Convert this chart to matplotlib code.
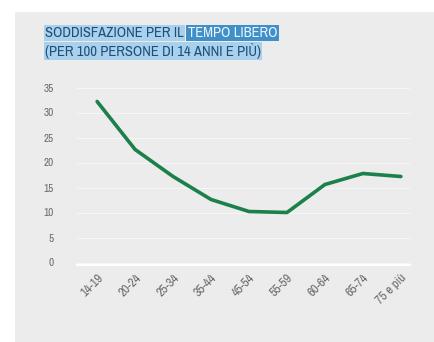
import matplotlib.pyplot as plt
from matplotlib.patches import Rectangle
from matplotlib import font_manager

# Età e quota di persone soddisfatte del tempo libero
eta = ['14-19', '20-24', '25-34', '35-44', '45-54', '55-59', '60-64', '65-74', '75 e più']
soddisfatti = [32.2, 22.6, 17.2, 12.6, 10.2, 10.0, 15.6, 17.8, 17.2]
y_ticks = [0, 5, 10, 15, 20, 25, 30, 35]

names = sorted({f.name for f in font_manager.fontManager.ttflist})
narrow = [n for n in names if 'Narrow' in n or 'Condensed' in n]
title_font = narrow[0] if narrow else 'DejaVu Sans'

fig = plt.figure(figsize=(4.35, 3.42), dpi=100)
fig.patch.set_facecolor('white')

# grey card behind the chart
fig.patches.append(Rectangle((15 / 435, 0), 1 - 15 / 435, 1 - 12 / 342,
                             transform=fig.transFigure, facecolor='#ebeceb',
                             edgecolor='none', zorder=-5))

ax = fig.add_axes([77 / 435, 1 - 265 / 342, 333 / 435, 180 / 342])
ax.set_zorder(2)
ax.set_facecolor('#ebeceb')
x = list(range(len(eta)))
ax.plot(x, soddisfatti, color='#1b8049', linewidth=2.6,
        solid_joinstyle='round', solid_capstyle='round', zorder=3)

ax.set_xlim(-0.53, 8.24)
ax.set_ylim(-0.5, 35.5)
ax.set_yticks(y_ticks)
ax.set_yticklabels([str(v) for v in y_ticks])
ax.set_xticks(x)
ax.set_xticklabels(eta, rotation=45, ha='right', rotation_mode='anchor')
for t in ax.get_yticklabels():
    t.set_fontsize(8)
for t in ax.get_xticklabels():
    t.set_fontsize(9)
for t in ax.get_yticklabels() + ax.get_xticklabels():
    t.set_color('#6a6a6a')
    t.set_fontweight('bold')
    t.set_family(title_font)
ax.tick_params(length=0)
ax.tick_params(axis='y', pad=17)
ax.tick_params(axis='x', pad=5)
ax.grid(axis='y', color='#f6f6f6', linewidth=0.8)
for s in ['top', 'right', 'left']:
    ax.spines[s].set_visible(False)
ax.spines['bottom'].set_color('white')
ax.spines['bottom'].set_linewidth(1.5)

# title with highlighted background
title_kw = dict(fontsize=10.5, fontweight='bold', family=title_font, va='center')
t1 = fig.text(45 / 435, 1 - 33 / 342, 'SODDISFAZIONE PER IL', color='#1d4f7c',
              bbox=dict(boxstyle='square,pad=0.1', facecolor='#a9d1ec', edgecolor='none'),
              **title_kw)
fig.canvas.draw()
bb = t1.get_window_extent().transformed(fig.transFigure.inverted())
fig.text(bb.x1 + 4 / 435, 1 - 33 / 342, 'TEMPO LIBERO', color='#eaf4fb',
         bbox=dict(boxstyle='square,pad=0.1', facecolor='#3f8fc8', edgecolor='none'),
         **title_kw)
fig.text(45 / 435, 1 - 51 / 342, '(PER 100 PERSONE DI 14 ANNI E PIÙ)', color='#1d4f7c',
         bbox=dict(boxstyle='square,pad=0.1', facecolor='#a9d1ec', edgecolor='none'),
         **title_kw)

fig.savefig('out.png', dpi=100)
